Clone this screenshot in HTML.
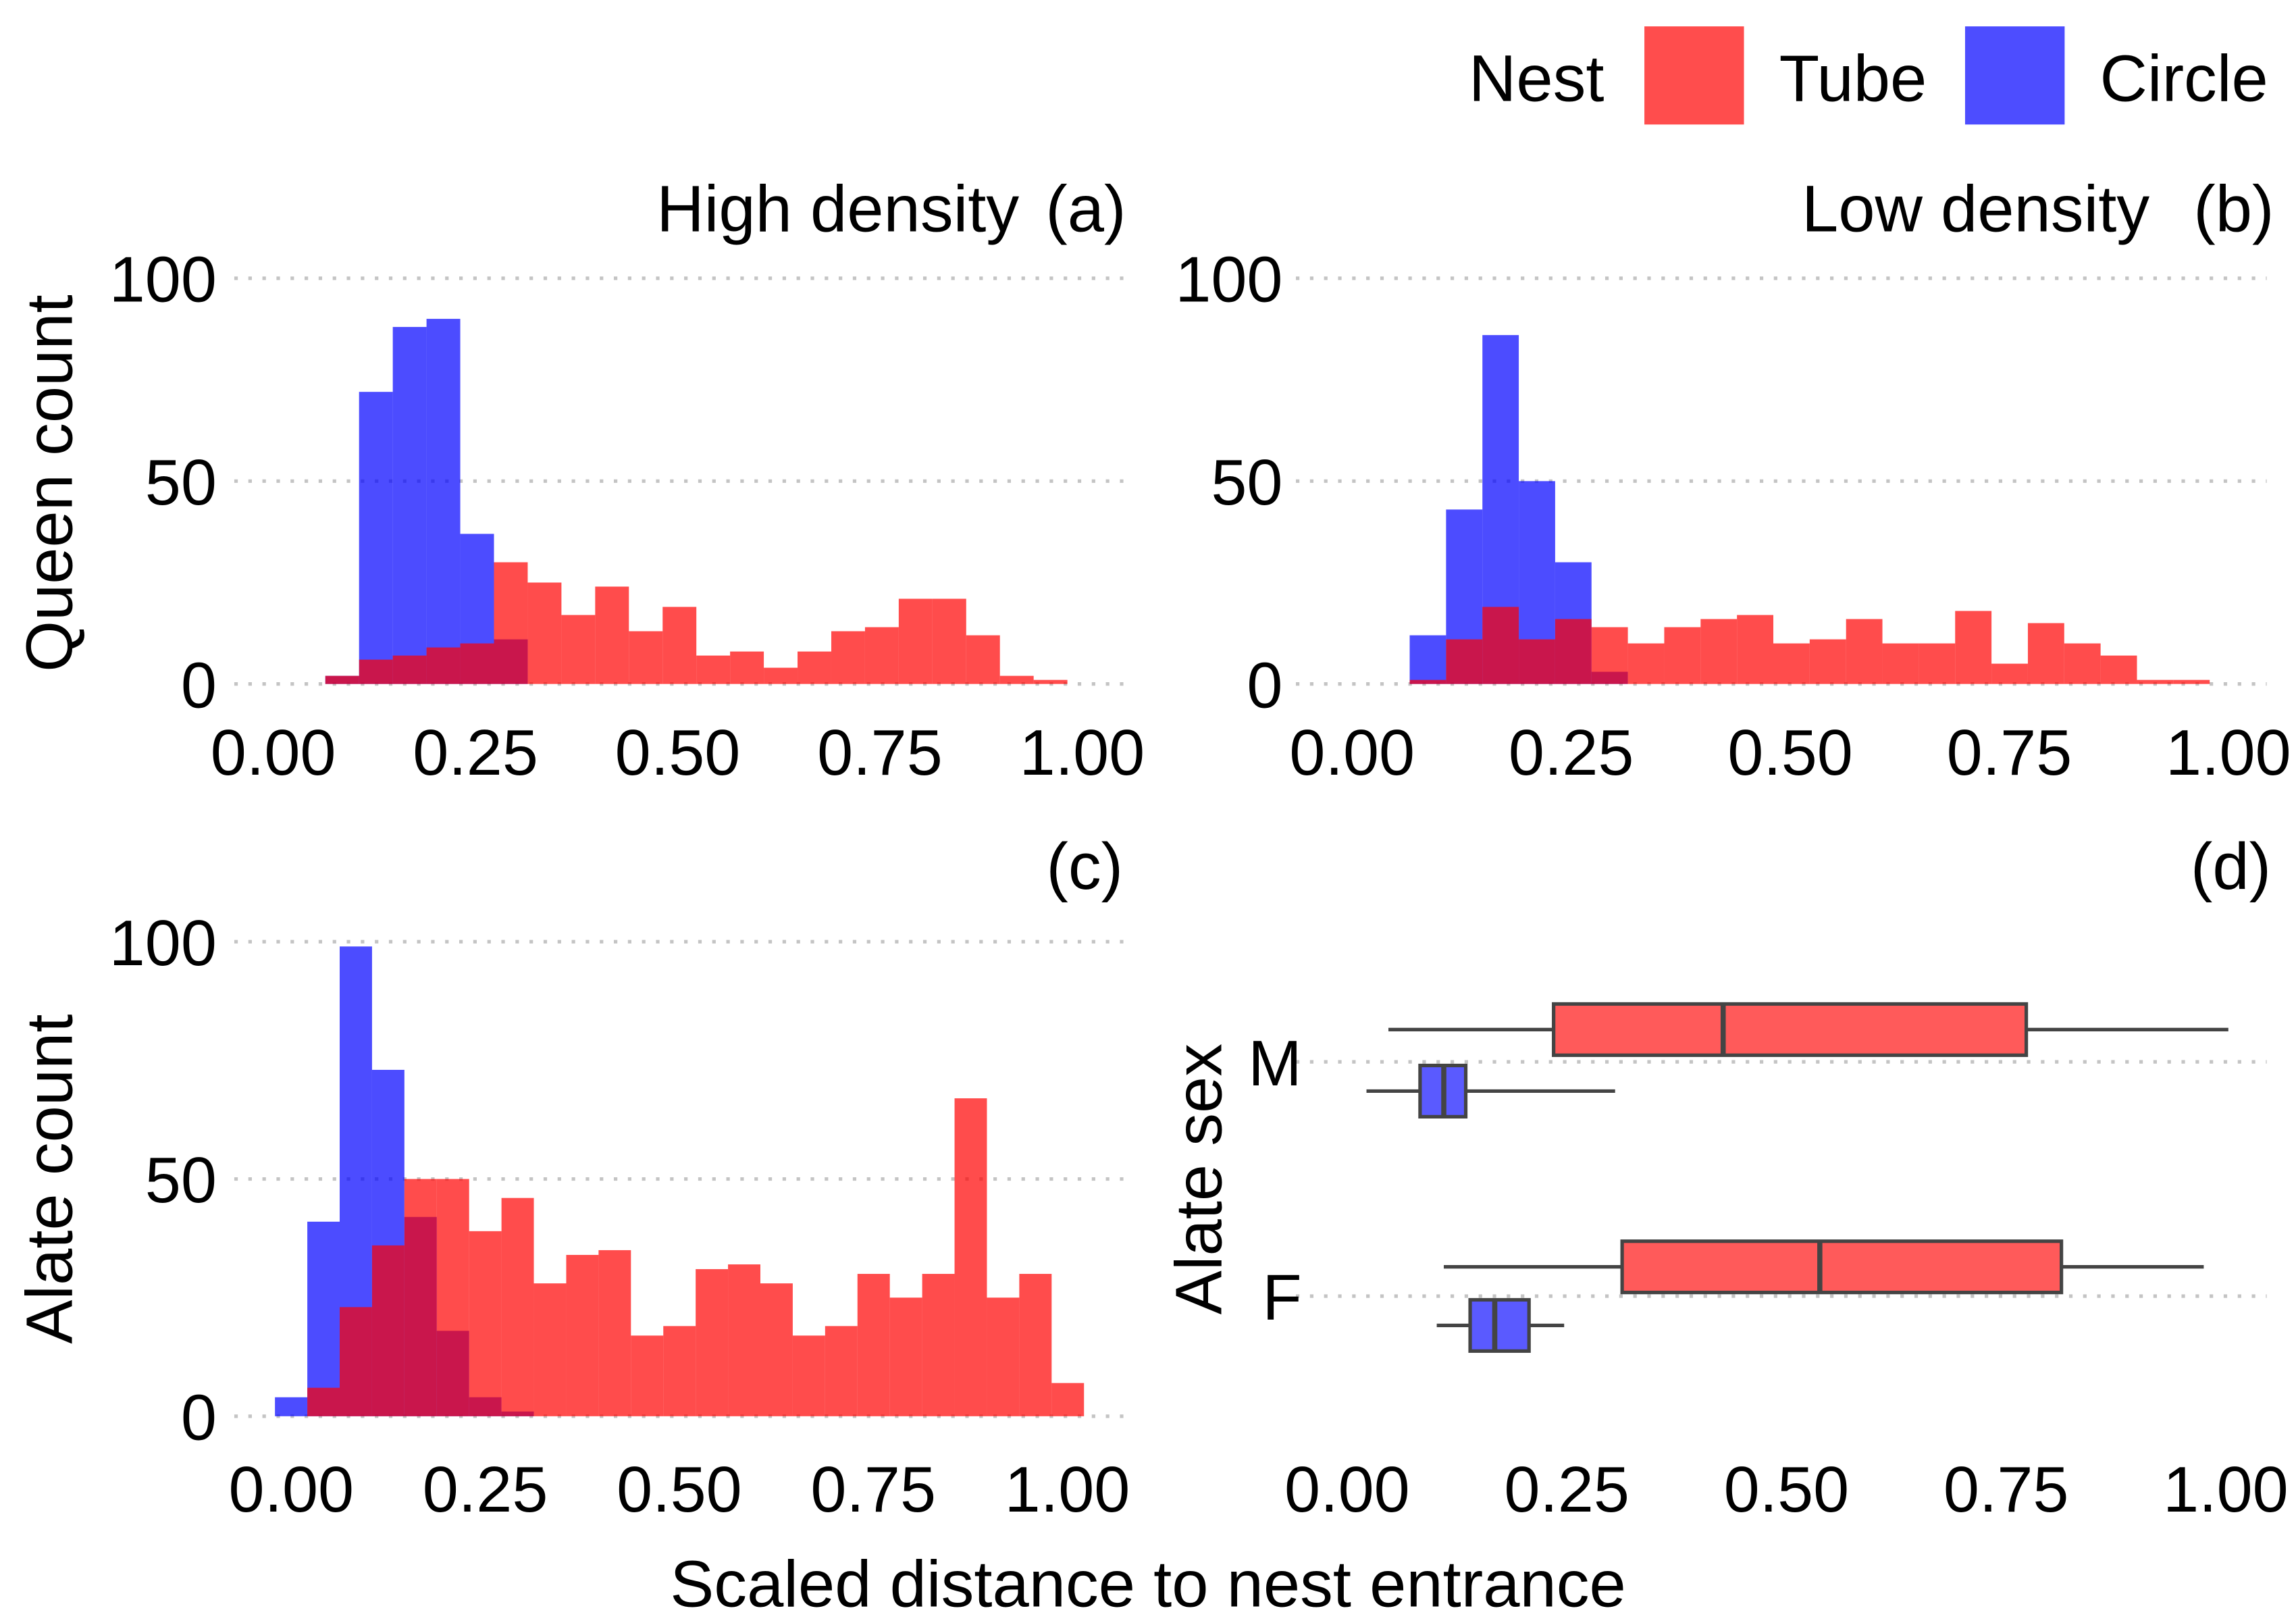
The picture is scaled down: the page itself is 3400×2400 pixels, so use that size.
<!DOCTYPE html>
<html><head><meta charset="utf-8"><style>
html,body{margin:0;padding:0;background:#fff;}
svg{display:block;}
text{font-family:"Liberation Sans",sans-serif;fill:#000;}
</style></head><body>
<svg id="chart" width="3400" height="2400" viewBox="0 0 1568 1106.8" xmlns="http://www.w3.org/2000/svg">
<g>
<text x="1003" y="69" font-size="45">Nest</text>
<rect x="1123" y="18" width="68" height="67" fill="#FF4D4D"/>
<text x="1215" y="69" font-size="45">Tube</text>
<rect x="1342" y="18" width="68" height="67" fill="#4D4DFF"/>
<text x="1434" y="69" font-size="45">Circle</text>
</g>
<text x="696" y="158" font-size="45" text-anchor="end">High density</text>
<text x="769" y="158" font-size="45" text-anchor="end">(a)</text>
<text x="1468" y="158" font-size="45" text-anchor="end">Low density</text>
<text x="1553" y="158" font-size="45" text-anchor="end">(b)</text>
<text x="767" y="607" font-size="45" text-anchor="end">(c)</text>
<text x="1551" y="607" font-size="45" text-anchor="end">(d)</text>
<text transform="translate(49,330) rotate(-90)" font-size="45" text-anchor="middle">Queen count</text>
<text transform="translate(49,805) rotate(-90)" font-size="45" text-anchor="middle">Alate count</text>
<text transform="translate(834,805) rotate(-90)" font-size="45" text-anchor="middle">Alate sex</text>
<text x="784" y="1097" font-size="45" text-anchor="middle">Scaled distance to nest entrance</text>
<g id="plots"></g>
</svg>
<script>
// Panel (a) High density queen counts
const aStart = 0.0644, aWidth = 0.0417;
const aTube = [2,6,7,9,10,30,25,17,24,13,19,7,8,4,8,13,14,21,21,12,2,1];
const aCircle = [2,72,88,90,37,11,0,0,0,0,0,0,0,0,0,0,0,0,0,0,0,0];
// Panel (b) Low density queen counts
const bStart = 0.0657, bWidth = 0.0415;
const bTube = [1,11,19,11,16,14,10,14,16,17,10,11,16,10,10,18,5,15,10,7,1,1];
const bCircle = [12,43,86,50,30,3,0,0,0,0,0,0,0,0,0,0,0,0,0,0,0,0];
// Panel (c) alate counts
const cStart = -0.021, cWidth = 0.0417;
const cTube = [0,6,23,36,50,50,39,46,28,34,35,17,19,31,32,28,17,19,30,25,30,67,25,30,7];
const cCircle = [4,41,99,73,42,18,4,1,0,0,0,0,0,0,0,0,0,0,0,0,0,0,0,0,0];
// Panel (d) boxplots: [whiskerLow, q1, median, q3, whiskerHigh]
const sexCats = ["M","F"];
const dTubeM = [0.047,0.235,0.428,0.773,1.003];
const dCircleM = [0.022,0.083,0.11,0.135,0.305];
const dTubeF = [0.11,0.313,0.538,0.813,0.975];
const dCircleF = [0.102,0.14,0.168,0.207,0.247];
const xTicks = [0,0.25,0.5,0.75,1];
const xTickLabels = ["0.00","0.25","0.50","0.75","1.00"];
const yTicks = [0,50,100];
const yTickLabels = ["0","50","100"];

const NS = "http://www.w3.org/2000/svg";
const root = document.getElementById('plots');
function mk(tag, attrs, parent){const e=document.createElementNS(NS,tag);for(const k in attrs)e.setAttribute(k,attrs[k]);(parent||root).appendChild(e);return e;}
const RED="rgba(255,0,0,0.7)", BLUE="rgba(0,0,255,0.7)";
const FS = 44;

function histPanel(name, P, start, width, tube, circle){
  const g = mk('g',{});
  
  
  const sx = v => P.x0 + v*P.ux;
  const sy = v => P.y0 - v*P.uy;
  yTicks.forEach((t,i)=>{
    const l = mk('line',{x1:P.gx1,x2:P.gx2,y1:sy(t),y2:sy(t),stroke:"#c4c4c4","stroke-width":2.4,"stroke-dasharray":"2.4 7.2"},g);
    
    
    const tx = mk('text',{x:P.lx,y:sy(t)+16,"font-size":FS,"text-anchor":"end"},g);
    tx.textContent = yTickLabels[i];
    
    
  });
  xTicks.forEach((t,i)=>{
    const tx = mk('text',{x:sx(t),y:P.xly,"font-size":FS,"text-anchor":"middle"},g);
    tx.textContent = xTickLabels[i];
    
    
  });
  const drawSeries = (arr, col, nm) => arr.forEach((v,i)=>{
    if(v<=0) return;
    const x1 = sx(start+i*width), x2 = sx(start+(i+1)*width);
    const r = mk('rect',{x:x1,y:sy(v),width:x2-x1,height:v*P.uy,fill:col},g);
    
    
  });
  drawSeries(circle, BLUE, 'bar-circle');
  drawSeries(tube, RED, 'bar-tube');
}
histPanel('panel-a-high-density',{x0:186.6,ux:552.4,y0:467,uy:2.77,gx1:160,gx2:768,lx:148,xly:529},aStart,aWidth,aTube,aCircle);
histPanel('panel-b-low-density',{x0:923.4,ux:598.4,y0:467,uy:2.77,gx1:885,gx2:1548,lx:876,xly:529},bStart,bWidth,bTube,bCircle);
histPanel('panel-c-alate',{x0:198.9,ux:530,y0:967,uy:3.24,gx1:160,gx2:768,lx:148,xly:1032},cStart,cWidth,cTube,cCircle);

// panel d
(function(){
  const g = mk('g',{});
  
  
  const x0=920, ux=600;
  const sx = v => x0+v*ux;
  const catY = {M:725, F:885};
  sexCats.forEach(c=>{
    const l = mk('line',{x1:885,x2:1548,y1:catY[c],y2:catY[c],stroke:"#c4c4c4","stroke-width":2.4,"stroke-dasharray":"2.4 7.2"},g);
    
    
    const t = mk('text',{x:889,y:catY[c]+16,"font-size":FS,"text-anchor":"end"},g);
    t.textContent = c;
    
    
  });
  xTicks.forEach((t,i)=>{
    const tx = mk('text',{x:sx(t),y:1032,"font-size":FS,"text-anchor":"middle"},g);
    tx.textContent = xTickLabels[i];
    
    
  });
  function box(s, cy, fill, nm){
    const h = 35;
    const w = mk('line',{x1:sx(s[0]),x2:sx(s[4]),y1:cy,y2:cy,stroke:"#444","stroke-width":2.4},g);
    
    
    const r = mk('rect',{x:sx(s[1]),y:cy-h/2,width:sx(s[3])-sx(s[1]),height:h,fill:fill,stroke:"#444","stroke-width":2.4},g);
    
    
    const m = mk('line',{x1:sx(s[2]),x2:sx(s[2]),y1:cy-h/2,y2:cy+h/2,stroke:"#444","stroke-width":3.5},g);
    
    
  }
  box(dTubeM, catY.M-22, "#FF5A5A", 'box-tube-m');
  box(dCircleM, catY.M+20, "#5A5AFF", 'box-circle-m');
  box(dTubeF, catY.F-20, "#FF5A5A", 'box-tube-f');
  box(dCircleF, catY.F+20, "#5A5AFF", 'box-circle-f');
})();
</script>
</body></html>
